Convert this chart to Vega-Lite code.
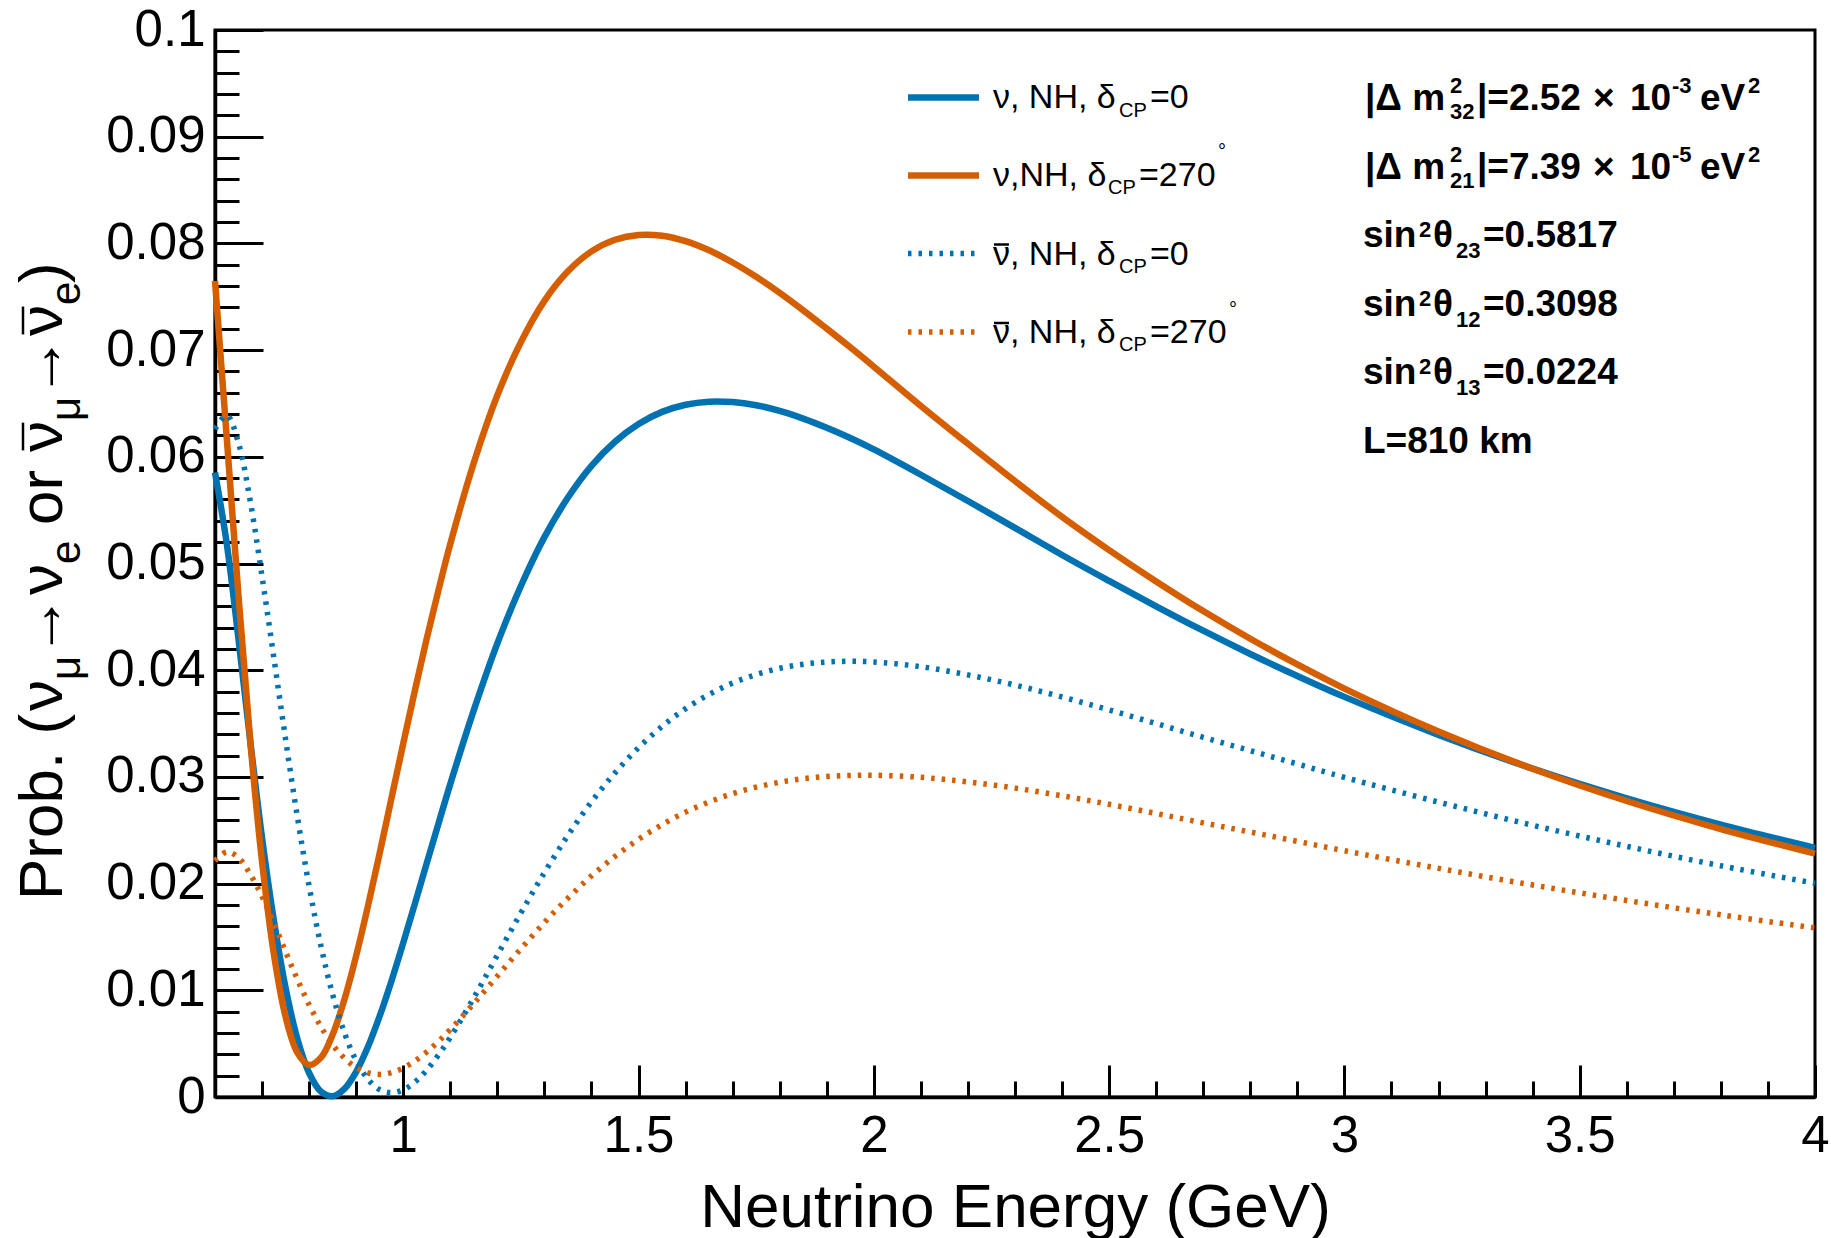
{
  "$schema": "https://vega.github.io/schema/vega-lite/v6.json",
  "width": 1600,
  "height": 1067,
  "autosize": {"type": "none"},
  "padding": {"left": 215, "top": 30, "right": 16, "bottom": 141},
  "background": "white",
  "config": {
    "view": {"stroke": "black", "strokeWidth": 3},
    "font": "Liberation Sans",
    "axis": {"grid": false, "tickColor": "black", "tickWidth": 3, "domainColor": "black", "labelColor": "black", "titleColor": "black"}
  },
  "datasets": {
    "curves": [
      {"E": 0.6, "nu0": 0.05853, "nu270": 0.07647, "nubar0": 0.0626, "nubar270": 0.02213},
      {"E": 0.625, "nu0": 0.05186, "nu270": 0.06176, "nubar0": 0.06388, "nubar270": 0.02297},
      {"E": 0.65, "nu0": 0.0429, "nu270": 0.04692, "nubar0": 0.06127, "nubar270": 0.02243},
      {"E": 0.675, "nu0": 0.03333, "nu270": 0.03333, "nubar0": 0.05582, "nubar270": 0.02086},
      {"E": 0.7, "nu0": 0.02428, "nu270": 0.02206, "nubar0": 0.04877, "nubar270": 0.01879},
      {"E": 0.725, "nu0": 0.01656, "nu270": 0.01342, "nubar0": 0.04119, "nubar270": 0.01629},
      {"E": 0.75, "nu0": 0.01022, "nu270": 0.00752, "nubar0": 0.03352, "nubar270": 0.01362},
      {"E": 0.775, "nu0": 0.00545, "nu270": 0.00416, "nubar0": 0.02627, "nubar270": 0.01103},
      {"E": 0.8, "nu0": 0.00225, "nu270": 0.003, "nubar0": 0.01976, "nubar270": 0.00865},
      {"E": 0.825, "nu0": 0.00051, "nu270": 0.00369, "nubar0": 0.01418, "nubar270": 0.00659},
      {"E": 0.85, "nu0": 0.00007, "nu270": 0.00585, "nubar0": 0.0096, "nubar270": 0.00491},
      {"E": 0.875, "nu0": 0.00076, "nu270": 0.00914, "nubar0": 0.00602, "nubar270": 0.00364},
      {"E": 0.9, "nu0": 0.00236, "nu270": 0.01324, "nubar0": 0.0034, "nubar270": 0.00276},
      {"E": 0.925, "nu0": 0.0047, "nu270": 0.01789, "nubar0": 0.00166, "nubar270": 0.00227},
      {"E": 0.95, "nu0": 0.00759, "nu270": 0.02287, "nubar0": 0.00069, "nubar270": 0.00212},
      {"E": 0.975, "nu0": 0.01088, "nu270": 0.028, "nubar0": 0.0004, "nubar270": 0.00229},
      {"E": 1.0, "nu0": 0.01444, "nu270": 0.03313, "nubar0": 0.00067, "nubar270": 0.00272},
      {"E": 1.025, "nu0": 0.01815, "nu270": 0.03814, "nubar0": 0.00141, "nubar270": 0.00338},
      {"E": 1.05, "nu0": 0.02192, "nu270": 0.04298, "nubar0": 0.00253, "nubar270": 0.00422},
      {"E": 1.075, "nu0": 0.02564, "nu270": 0.04752, "nubar0": 0.00395, "nubar270": 0.00522},
      {"E": 1.1, "nu0": 0.02934, "nu270": 0.05184, "nubar0": 0.00559, "nubar270": 0.00633},
      {"E": 1.15, "nu0": 0.03626, "nu270": 0.05944, "nubar0": 0.00931, "nubar270": 0.00876},
      {"E": 1.2, "nu0": 0.04252, "nu270": 0.06577, "nubar0": 0.01329, "nubar270": 0.01134},
      {"E": 1.25, "nu0": 0.04789, "nu270": 0.07075, "nubar0": 0.01725, "nubar270": 0.01389},
      {"E": 1.3, "nu0": 0.05247, "nu270": 0.07462, "nubar0": 0.02103, "nubar270": 0.01636},
      {"E": 1.35, "nu0": 0.05618, "nu270": 0.07738, "nubar0": 0.02452, "nubar270": 0.01864},
      {"E": 1.4, "nu0": 0.05915, "nu270": 0.07925, "nubar0": 0.02766, "nubar270": 0.02072},
      {"E": 1.45, "nu0": 0.06141, "nu270": 0.08034, "nubar0": 0.03038, "nubar270": 0.02255},
      {"E": 1.5, "nu0": 0.06307, "nu270": 0.08079, "nubar0": 0.03274, "nubar270": 0.02415},
      {"E": 1.55, "nu0": 0.06421, "nu270": 0.08072, "nubar0": 0.03473, "nubar270": 0.02553},
      {"E": 1.6, "nu0": 0.06488, "nu270": 0.08021, "nubar0": 0.0364, "nubar270": 0.0267},
      {"E": 1.65, "nu0": 0.06517, "nu270": 0.07935, "nubar0": 0.03773, "nubar270": 0.02765},
      {"E": 1.7, "nu0": 0.06513, "nu270": 0.07821, "nubar0": 0.0388, "nubar270": 0.02844},
      {"E": 1.75, "nu0": 0.06483, "nu270": 0.07687, "nubar0": 0.03959, "nubar270": 0.02904},
      {"E": 1.8, "nu0": 0.0643, "nu270": 0.07537, "nubar0": 0.04018, "nubar270": 0.0295},
      {"E": 1.85, "nu0": 0.06358, "nu270": 0.07373, "nubar0": 0.04056, "nubar270": 0.02983},
      {"E": 1.9, "nu0": 0.06272, "nu270": 0.07201, "nubar0": 0.04077, "nubar270": 0.03004},
      {"E": 1.95, "nu0": 0.06176, "nu270": 0.07026, "nubar0": 0.04083, "nubar270": 0.03014},
      {"E": 2.0, "nu0": 0.06069, "nu270": 0.06845, "nubar0": 0.04077, "nubar270": 0.03016},
      {"E": 2.1, "nu0": 0.05832, "nu270": 0.06477, "nubar0": 0.04033, "nubar270": 0.02996},
      {"E": 2.2, "nu0": 0.05586, "nu270": 0.06122, "nubar0": 0.03956, "nubar270": 0.02953},
      {"E": 2.3, "nu0": 0.05334, "nu270": 0.05773, "nubar0": 0.03861, "nubar270": 0.02895},
      {"E": 2.4, "nu0": 0.0508, "nu270": 0.05437, "nubar0": 0.03749, "nubar270": 0.02823},
      {"E": 2.5, "nu0": 0.04837, "nu270": 0.05126, "nubar0": 0.03628, "nubar270": 0.02743},
      {"E": 2.6, "nu0": 0.04599, "nu270": 0.04832, "nubar0": 0.035, "nubar270": 0.02657},
      {"E": 2.7, "nu0": 0.0437, "nu270": 0.04554, "nubar0": 0.03371, "nubar270": 0.02569},
      {"E": 2.8, "nu0": 0.04152, "nu270": 0.04295, "nubar0": 0.03246, "nubar270": 0.02483},
      {"E": 2.9, "nu0": 0.03946, "nu270": 0.04054, "nubar0": 0.03121, "nubar270": 0.02396},
      {"E": 3.0, "nu0": 0.0375, "nu270": 0.03828, "nubar0": 0.02996, "nubar270": 0.02308},
      {"E": 3.2, "nu0": 0.03394, "nu270": 0.03426, "nubar0": 0.02764, "nubar270": 0.02143},
      {"E": 3.4, "nu0": 0.03077, "nu270": 0.03076, "nubar0": 0.02547, "nubar270": 0.01987},
      {"E": 3.6, "nu0": 0.02799, "nu270": 0.02774, "nubar0": 0.02349, "nubar270": 0.01842},
      {"E": 3.8, "nu0": 0.02553, "nu270": 0.02511, "nubar0": 0.02167, "nubar270": 0.01707},
      {"E": 4.0, "nu0": 0.02335, "nu270": 0.02281, "nubar0": 0.02003, "nubar270": 0.01585}
    ],
    "samples": [
      {"series": "nu0", "E1": 2.0726, "E2": 2.2235, "P": 0.093674},
      {"series": "nu270", "E1": 2.0726, "E2": 2.2235, "P": 0.086364},
      {"series": "nubar0", "E1": 2.0726, "E2": 2.2235, "P": 0.079053},
      {"series": "nubar270", "E1": 2.0726, "E2": 2.2235, "P": 0.071696}
    ],
    "overbars": [
      {"E1": 2.2553, "E2": 2.2872, "P1": 0.079897, "P2": 0.079897},
      {"E1": 2.2553, "E2": 2.2872, "P1": 0.07254, "P2": 0.07254},
      {"E1": 0.192, "E2": 0.192, "P1": 0.0606, "P2": 0.0632},
      {"E1": 0.192, "E2": 0.192, "P1": 0.07147, "P2": 0.07408}
    ],
    "labels": [
      {"role": "yt", "t": "Prob. (", "E": 0.27488, "P": 0.018463},
      {"role": "yt", "t": "ν", "E": 0.27488, "P": 0.036176},
      {"role": "yt", "t": "→", "E": 0.27488, "P": 0.041237},
      {"role": "yt", "t": "ν", "E": 0.27488, "P": 0.047048},
      {"role": "yt", "t": "or", "E": 0.27488, "P": 0.053608},
      {"role": "yt", "t": "ν", "E": 0.27488, "P": 0.06045},
      {"role": "yt", "t": "→", "E": 0.27488, "P": 0.065511},
      {"role": "yt", "t": "ν", "E": 0.27488, "P": 0.071321},
      {"role": "yt", "t": ")", "E": 0.27488, "P": 0.076289},
      {"role": "yts", "t": "μ", "E": 0.31313, "P": 0.039081},
      {"role": "yts", "t": "e", "E": 0.31313, "P": 0.049953},
      {"role": "yts", "t": "μ", "E": 0.31313, "P": 0.063355},
      {"role": "yts", "t": "e", "E": 0.31313, "P": 0.074227},
      {"role": "lg", "t": "ν, NH, δ", "E": 2.2532, "P": 0.092643},
      {"role": "lg", "t": "=0", "E": 2.5869, "P": 0.092643},
      {"role": "lg", "t": "ν,NH, δ", "E": 2.2532, "P": 0.085333},
      {"role": "lg", "t": "=270", "E": 2.5634, "P": 0.085333},
      {"role": "lg", "t": "ν, NH, δ", "E": 2.2532, "P": 0.078022},
      {"role": "lg", "t": "=0", "E": 2.5869, "P": 0.078022},
      {"role": "lg", "t": "ν, NH, δ", "E": 2.2532, "P": 0.070666},
      {"role": "lg", "t": "=270", "E": 2.5869, "P": 0.070666},
      {"role": "lgs", "t": "CP", "E": 2.521, "P": 0.091893},
      {"role": "lgs", "t": "CP", "E": 2.4976, "P": 0.084583},
      {"role": "lgs", "t": "CP", "E": 2.521, "P": 0.077272},
      {"role": "lgs", "t": "CP", "E": 2.521, "P": 0.069916},
      {"role": "lgs", "t": "°", "E": 2.7314, "P": 0.088004},
      {"role": "lgs", "t": "°", "E": 2.7548, "P": 0.073196},
      {"role": "bx", "t": "|Δ m", "E": 3.0437, "P": 0.092502},
      {"role": "bx", "t": "|=2.52", "E": 3.2817, "P": 0.092502},
      {"role": "bx", "t": "×", "E": 3.5282, "P": 0.092502},
      {"role": "bx", "t": "10", "E": 3.6069, "P": 0.092502},
      {"role": "bx", "t": "eV", "E": 3.7556, "P": 0.092502},
      {"role": "bx", "t": "|Δ m", "E": 3.0437, "P": 0.086036},
      {"role": "bx", "t": "|=7.39", "E": 3.2817, "P": 0.086036},
      {"role": "bx", "t": "×", "E": 3.5282, "P": 0.086036},
      {"role": "bx", "t": "10", "E": 3.6069, "P": 0.086036},
      {"role": "bx", "t": "eV", "E": 3.7556, "P": 0.086036},
      {"role": "bx", "t": "sin", "E": 3.0395, "P": 0.079663},
      {"role": "bx", "t": "θ", "E": 3.1883, "P": 0.079663},
      {"role": "bx", "t": "=0.5817", "E": 3.2945, "P": 0.079663},
      {"role": "bx", "t": "sin", "E": 3.0395, "P": 0.073196},
      {"role": "bx", "t": "θ", "E": 3.1883, "P": 0.073196},
      {"role": "bx", "t": "=0.3098", "E": 3.2945, "P": 0.073196},
      {"role": "bx", "t": "sin", "E": 3.0395, "P": 0.066823},
      {"role": "bx", "t": "θ", "E": 3.1883, "P": 0.066823},
      {"role": "bx", "t": "=0.0224", "E": 3.2945, "P": 0.066823},
      {"role": "bx", "t": "L=810 km", "E": 3.0395, "P": 0.060356},
      {"role": "bxs", "t": "2", "E": 3.2244, "P": 0.094096},
      {"role": "bxs", "t": "32", "E": 3.2244, "P": 0.091659},
      {"role": "bxs", "t": "-3", "E": 3.6961, "P": 0.094096},
      {"role": "bxs", "t": "2", "E": 3.8576, "P": 0.094096},
      {"role": "bxs", "t": "2", "E": 3.2244, "P": 0.087629},
      {"role": "bxs", "t": "21", "E": 3.2244, "P": 0.085192},
      {"role": "bxs", "t": "-5", "E": 3.6961, "P": 0.087629},
      {"role": "bxs", "t": "2", "E": 3.8576, "P": 0.087629},
      {"role": "bxs", "t": "2", "E": 3.1585, "P": 0.0806},
      {"role": "bxs", "t": "23", "E": 3.2371, "P": 0.078632},
      {"role": "bxs", "t": "2", "E": 3.1585, "P": 0.074133},
      {"role": "bxs", "t": "12", "E": 3.2371, "P": 0.072165},
      {"role": "bxs", "t": "2", "E": 3.1585, "P": 0.06776},
      {"role": "bxs", "t": "13", "E": 3.2371, "P": 0.065792}
    ]
  },
  "resolve": {"axis": {"x": "independent", "y": "independent"}},
  "layer": [
    {
      "data": {"name": "curves"},
      "transform": [{"fold": ["nu0", "nu270"], "as": ["series", "P"]}],
      "mark": {"type": "line", "strokeWidth": 6.5, "interpolate": "catmull-rom"},
      "encoding": {
        "x": {
          "field": "E", "type": "quantitative",
          "scale": {"domain": [0.6, 4], "nice": false, "zero": false},
          "axis": {
            "orient": "bottom", "values": [1, 1.5, 2, 2.5, 3, 3.5, 4], "format": "~g",
            "tickSize": -32, "tickWidth": 3, "domain": true, "domainWidth": 3.5,
            "labelFont": "Liberation Sans", "labelFontSize": 51, "labelPadding": 46,
            "labelFlush": false, "labelOverlap": false, "labelBound": false,
            "title": "Neutrino Energy (GeV)", "titleFont": "Liberation Sans", "titleFontSize": 62,
            "titleFontWeight": "normal", "titleBaseline": "alphabetic", "titleY": 129
          }
        },
        "y": {
          "field": "P", "type": "quantitative",
          "scale": {"domain": [0, 0.1], "nice": false, "zero": false},
          "axis": {
            "orient": "left", "values": [0, 0.01, 0.02, 0.03, 0.04, 0.05, 0.06, 0.07, 0.08, 0.09, 0.1], "format": "~g",
            "tickSize": -48, "tickWidth": 3, "domain": true, "domainWidth": 3.5,
            "labelFont": "Liberation Sans", "labelFontSize": 51, "labelPadding": 58,
            "labelOverlap": false, "labelBound": false, "labelFlush": false,
            "title": null
          }
        },
        "color": {
          "field": "series", "type": "nominal",
          "scale": {"domain": ["nu0", "nu270", "nubar0", "nubar270"], "range": ["#0072B2", "#D55E00", "#0072B2", "#D55E00"]},
          "legend": null
        }
      }
    },
    {
      "data": {"name": "curves"},
      "transform": [{"fold": ["nubar0", "nubar270"], "as": ["series", "P"]}],
      "mark": {"type": "line", "strokeWidth": 5.5, "strokeDash": [3.5, 7], "strokeCap": "butt", "interpolate": "catmull-rom"},
      "encoding": {
        "x": {
          "field": "E", "type": "quantitative",
          "scale": {"domain": [0.6, 4], "nice": false, "zero": false},
          "axis": {
            "orient": "bottom",
            "values": [0.6, 0.7, 0.8, 0.9, 1, 1.1, 1.2, 1.3, 1.4, 1.5, 1.6, 1.7, 1.8, 1.9, 2, 2.1, 2.2, 2.3, 2.4, 2.5, 2.6, 2.7, 2.8, 2.9, 3, 3.1, 3.2, 3.3, 3.4, 3.5, 3.6, 3.7, 3.8, 3.9, 4],
            "tickSize": -16, "tickWidth": 3, "labels": false, "domain": false, "title": null
          }
        },
        "y": {
          "field": "P", "type": "quantitative",
          "scale": {"domain": [0, 0.1], "nice": false, "zero": false},
          "axis": {
            "orient": "left",
            "values": [0, 0.002, 0.004, 0.006, 0.008, 0.01, 0.012, 0.014, 0.016, 0.018, 0.02, 0.022, 0.024, 0.026, 0.028, 0.03, 0.032, 0.034, 0.036, 0.038, 0.04, 0.042, 0.044, 0.046, 0.048, 0.05, 0.052, 0.054, 0.056, 0.058, 0.06, 0.062, 0.064, 0.066, 0.068, 0.07, 0.072, 0.074, 0.076, 0.078, 0.08, 0.082, 0.084, 0.086, 0.088, 0.09, 0.092, 0.094, 0.096, 0.098, 0.1],
            "tickSize": -24, "tickWidth": 3, "labels": false, "domain": false, "title": null
          }
        },
        "color": {
          "field": "series", "type": "nominal",
          "scale": {"domain": ["nu0", "nu270", "nubar0", "nubar270"], "range": ["#0072B2", "#D55E00", "#0072B2", "#D55E00"]},
          "legend": null
        }
      }
    },
    {
      "data": {"name": "samples"},
      "transform": [{"filter": "datum.series == 'nu0' || datum.series == 'nu270'"}],
      "mark": {"type": "rule", "strokeWidth": 6.5},
      "encoding": {
        "x": {"field": "E1", "type": "quantitative", "scale": {"domain": [0.6, 4], "nice": false, "zero": false}, "axis": null},
        "x2": {"field": "E2"},
        "y": {"field": "P", "type": "quantitative", "scale": {"domain": [0, 0.1], "nice": false, "zero": false}, "axis": null},
        "color": {
          "field": "series", "type": "nominal",
          "scale": {"domain": ["nu0", "nu270", "nubar0", "nubar270"], "range": ["#0072B2", "#D55E00", "#0072B2", "#D55E00"]},
          "legend": null
        }
      }
    },
    {
      "data": {"name": "samples"},
      "transform": [{"filter": "datum.series == 'nubar0' || datum.series == 'nubar270'"}],
      "mark": {"type": "rule", "strokeWidth": 5.5, "strokeDash": [3.5, 7], "strokeCap": "butt"},
      "encoding": {
        "x": {"field": "E1", "type": "quantitative", "scale": {"domain": [0.6, 4], "nice": false, "zero": false}, "axis": null},
        "x2": {"field": "E2"},
        "y": {"field": "P", "type": "quantitative", "scale": {"domain": [0, 0.1], "nice": false, "zero": false}, "axis": null},
        "color": {
          "field": "series", "type": "nominal",
          "scale": {"domain": ["nu0", "nu270", "nubar0", "nubar270"], "range": ["#0072B2", "#D55E00", "#0072B2", "#D55E00"]},
          "legend": null
        }
      }
    },
    {
      "data": {"name": "overbars"},
      "mark": {"type": "rule", "strokeWidth": 2.5, "color": "black"},
      "encoding": {
        "x": {"field": "E1", "type": "quantitative", "scale": {"domain": [0.6, 4], "nice": false, "zero": false}, "axis": null},
        "x2": {"field": "E2"},
        "y": {"field": "P1", "type": "quantitative", "scale": {"domain": [0, 0.1], "nice": false, "zero": false}, "axis": null},
        "y2": {"field": "P2"}
      }
    },
    {
      "data": {"name": "labels"},
      "transform": [{"filter": "datum.role == 'yt'"}],
      "mark": {"type": "text", "angle": 270, "align": "left", "baseline": "alphabetic", "font": "Liberation Sans", "fontSize": 62, "color": "black"},
      "encoding": {
        "x": {"field": "E", "type": "quantitative", "scale": {"domain": [0.6, 4], "nice": false, "zero": false}, "axis": null},
        "y": {"field": "P", "type": "quantitative", "scale": {"domain": [0, 0.1], "nice": false, "zero": false}, "axis": null},
        "text": {"field": "t"}
      }
    },
    {
      "data": {"name": "labels"},
      "transform": [{"filter": "datum.role == 'yts'"}],
      "mark": {"type": "text", "angle": 270, "align": "left", "baseline": "alphabetic", "font": "Liberation Sans", "fontSize": 42, "color": "black"},
      "encoding": {
        "x": {"field": "E", "type": "quantitative", "scale": {"domain": [0.6, 4], "nice": false, "zero": false}, "axis": null},
        "y": {"field": "P", "type": "quantitative", "scale": {"domain": [0, 0.1], "nice": false, "zero": false}, "axis": null},
        "text": {"field": "t"}
      }
    },
    {
      "data": {"name": "labels"},
      "transform": [{"filter": "datum.role == 'lg'"}],
      "mark": {"type": "text", "align": "left", "baseline": "alphabetic", "font": "Liberation Sans", "fontSize": 34, "color": "black"},
      "encoding": {
        "x": {"field": "E", "type": "quantitative", "scale": {"domain": [0.6, 4], "nice": false, "zero": false}, "axis": null},
        "y": {"field": "P", "type": "quantitative", "scale": {"domain": [0, 0.1], "nice": false, "zero": false}, "axis": null},
        "text": {"field": "t"}
      }
    },
    {
      "data": {"name": "labels"},
      "transform": [{"filter": "datum.role == 'lgs'"}],
      "mark": {"type": "text", "align": "left", "baseline": "alphabetic", "font": "Liberation Sans", "fontSize": 20, "color": "black"},
      "encoding": {
        "x": {"field": "E", "type": "quantitative", "scale": {"domain": [0.6, 4], "nice": false, "zero": false}, "axis": null},
        "y": {"field": "P", "type": "quantitative", "scale": {"domain": [0, 0.1], "nice": false, "zero": false}, "axis": null},
        "text": {"field": "t"}
      }
    },
    {
      "data": {"name": "labels"},
      "transform": [{"filter": "datum.role == 'bx'"}],
      "mark": {"type": "text", "align": "left", "baseline": "alphabetic", "font": "Liberation Sans", "fontSize": 37, "fontWeight": "bold", "color": "black"},
      "encoding": {
        "x": {"field": "E", "type": "quantitative", "scale": {"domain": [0.6, 4], "nice": false, "zero": false}, "axis": null},
        "y": {"field": "P", "type": "quantitative", "scale": {"domain": [0, 0.1], "nice": false, "zero": false}, "axis": null},
        "text": {"field": "t"}
      }
    },
    {
      "data": {"name": "labels"},
      "transform": [{"filter": "datum.role == 'bxs'"}],
      "mark": {"type": "text", "align": "left", "baseline": "alphabetic", "font": "Liberation Sans", "fontSize": 22, "fontWeight": "bold", "color": "black"},
      "encoding": {
        "x": {"field": "E", "type": "quantitative", "scale": {"domain": [0.6, 4], "nice": false, "zero": false}, "axis": null},
        "y": {"field": "P", "type": "quantitative", "scale": {"domain": [0, 0.1], "nice": false, "zero": false}, "axis": null},
        "text": {"field": "t"}
      }
    }
  ]
}
